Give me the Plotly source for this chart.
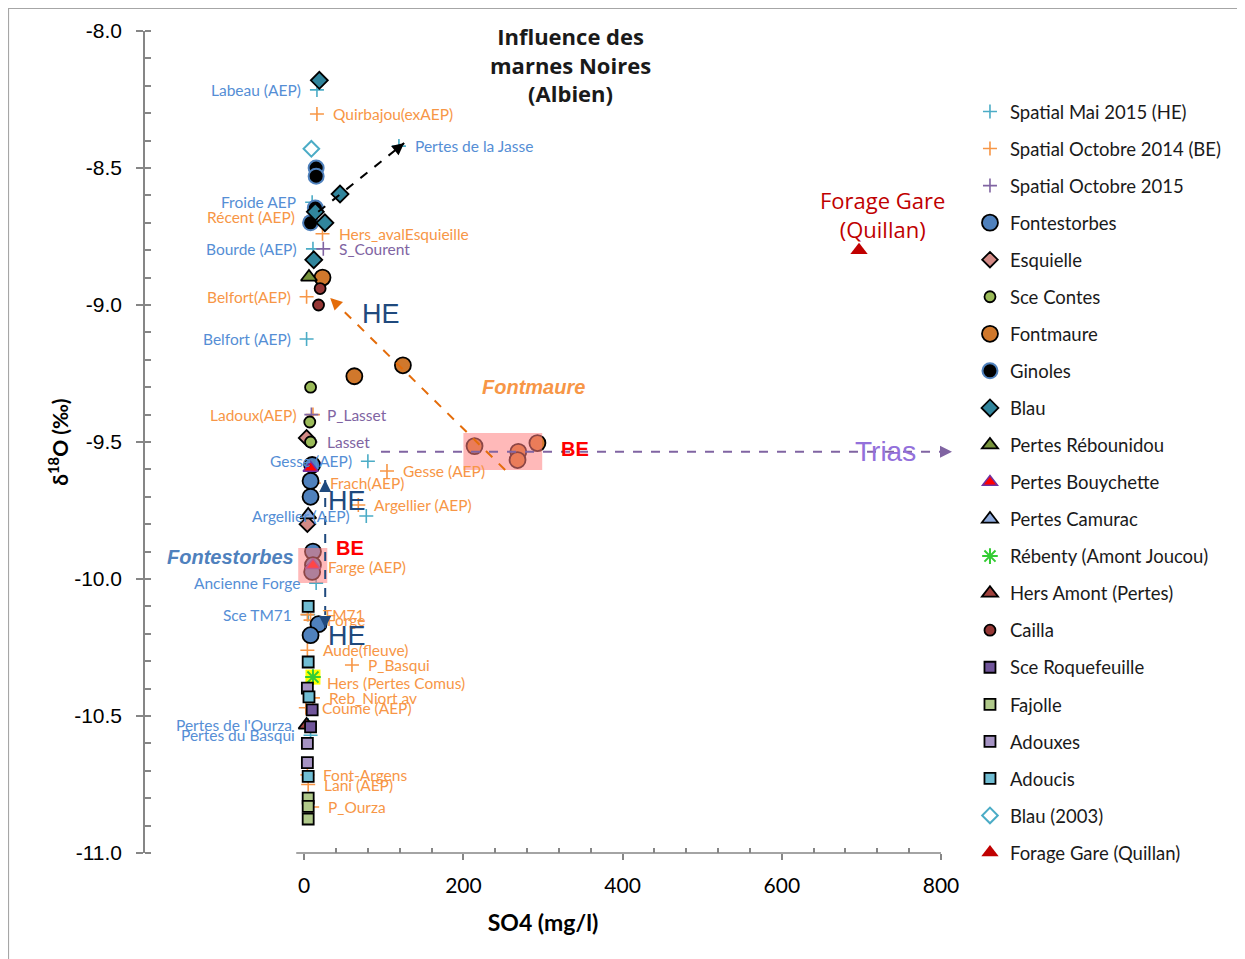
"""Delta18O vs SO4 scatter - influence des marnes noires"""
import math
import plotly.graph_objects as go

# Spatial campaigns (label, x=SO4 mg/l, y=d18O)
MAI_LABELS = ["Labeau (AEP)", "Pertes de la Jasse", "Froide AEP", "Bourde (AEP)",
              "Belfort (AEP)", "Gesse (AEP)", "Argellier (AEP)", "Ancienne Forge",
              "Sce TM71", "Pertes de l'Ourza", "Pertes du Basqui"]
MAI_X = [16, 119, 10, 11, 3, 80, 78, 15, 5, 5, 8]
MAI_Y = [-8.215, -8.42, -8.625, -8.795, -9.124, -9.57, -9.77, -10.015, -10.13, -10.533, -10.57]

OCT14_LABELS = ["Quirbajou(exAEP)", "Récent (AEP)", "Hers_avalEsquieille", "Belfort(AEP)",
                "Ladoux(AEP)", "Gesse (AEP)", "Frach(AEP)", "Argellier (AEP)", "Farge (AEP)",
                "TM71", "Forge", "Aude(fleuve)", "P_Basqui", "Hers (Pertes Comus)",
                "Reb_Niort av", "Coume (AEP)", "Font-Argens", "Lani (AEP)", "P_Ourza"]
OCT14_X = [16, 9, 23, 3, 11, 104, 12, 68, 10, 4, 8, 4, 60, 8, 11, 2, 4, 5, 10]
OCT14_Y = [-8.303, -8.68, -8.74, -8.97, -9.40, -9.606, -9.65, -9.73, -9.955,
           -10.13, -10.15, -10.26, -10.314, -10.38, -10.434, -10.47, -10.715, -10.75, -10.832]

OCT15_LABELS = ["S_Courent", "P_Lasset", "Lasset"]
OCT15_X = [24, 9, 8]
OCT15_Y = [-8.795, -9.40, -9.50]

# label side: L = text left of point, R = right
MAI_SIDE = ["L", "R", "L", "L", "L", "L", "L", "L", "L", "L", "L"]
OCT14_SIDE = ["R", "L", "R", "L", "L", "R", "R", "R", "R", "R", "R", "R", "R", "R", "R", "R", "R", "R", "R"]
OCT15_SIDE = ["R", "R", "R"]

# Sources
FONTESTORBES_X = [10, 8, 8, 11, 11, 10, 18, 8]
FONTESTORBES_Y = [-9.584, -9.642, -9.70, -9.90, -9.949, -9.974, -10.165, -10.205]
ESQUIELLE_X = [3, 4]
ESQUIELLE_Y = [-9.485, -9.80]
CONTES_X = [8, 7, 8]
CONTES_Y = [-9.30, -9.427, -9.50]
FONTMAURE_X = [23, 63, 124, 214, 269, 268, 293]
FONTMAURE_Y = [-8.90, -9.26, -9.22, -9.515, -9.536, -9.566, -9.504]
GINOLES_X = [15, 15, 14, 8]
GINOLES_Y = [-8.50, -8.53, -8.646, -8.70]
BLAU_X = [19, 45, 14, 26, 12]
BLAU_Y = [-8.18, -8.595, -8.66, -8.70, -8.835]
REBOUNIDOU_X = [6]
REBOUNIDOU_Y = [-8.898]
BOUYCHETTE_X = [8, 11]
BOUYCHETTE_Y = [-9.595, -9.95]
CAMURAC_X = [5]
CAMURAC_Y = [-9.766]
REBENTY_X = [11]
REBENTY_Y = [-10.358]
HERS_AMONT_X = [3]
HERS_AMONT_Y = [-10.533]
CAILLA_X = [20, 18]
CAILLA_Y = [-8.94, -9.00]
ROQUEFEUILLE_X = [10, 8]
ROQUEFEUILLE_Y = [-10.478, -10.54]
FAJOLLE_X = [5, 5, 5]
FAJOLLE_Y = [-10.80, -10.83, -10.876]
ADOUXES_X = [4, 4, 4]
ADOUXES_Y = [-10.398, -10.60, -10.67]
ADOUCIS_X = [5, 5, 6, 5]
ADOUCIS_Y = [-10.10, -10.303, -10.43, -10.72]
BLAU2003_X = [9]
BLAU2003_Y = [-8.43]
FORAGE_X = [697]
FORAGE_Y = [-8.80]

X_TICKS = [0, 200, 400, 600, 800]
Y_TICKS = [-8.0, -8.5, -9.0, -9.5, -10.0, -10.5, -11.0]
Y_TICK_TEXT = ["-8.0", "-8.5", "-9.0", "-9.5", "-10.0", "-10.5", "-11.0"]

FONT = "Lato"
ARIAL = "Liberation Sans"

# plot area size in px (used to orient arrow heads)
PLOT_W, PLOT_H = 796, 822
X_RANGE = [-200, 800]
Y_RANGE = [-11, -8]

fig = go.Figure()


def plus_trace(name, xs, ys, color):
    fig.add_trace(go.Scatter(
        x=xs, y=ys, name=name, mode="markers", legendgroup=name,
        marker=dict(symbol="cross-thin", size=10, color=color, line=dict(color=color, width=1.6)),
    ))


def source_trace(name, xs, ys, symbol, fill, size, edge="black", edge_w=1.8):
    fig.add_trace(go.Scatter(
        x=xs, y=ys, name=name, mode="markers", legendgroup=name,
        marker=dict(symbol=symbol, size=size, color=fill, line=dict(color=edge, width=edge_w)),
    ))


plus_trace("Spatial Mai 2015 (HE)", MAI_X, MAI_Y, "#4bacc6")
plus_trace("Spatial Octobre 2014 (BE)", OCT14_X, OCT14_Y, "#f79646")
plus_trace("Spatial Octobre 2015", OCT15_X, OCT15_Y, "#8064a2")

source_trace("Fontestorbes", FONTESTORBES_X, FONTESTORBES_Y, "circle", "#4f81bd", 16)
source_trace("Esquielle", ESQUIELLE_X, ESQUIELLE_Y, "diamond", "#d38a86", 12)
source_trace("Sce Contes", CONTES_X, CONTES_Y, "circle", "#9bbb59", 11)
source_trace("Fontmaure", FONTMAURE_X, FONTMAURE_Y, "circle", "#d0782c", 16)
source_trace("Ginoles", GINOLES_X, GINOLES_Y, "circle", "black", 15, "#4f81bd", 2)
source_trace("Blau", BLAU_X, BLAU_Y, "diamond", "#31859c", 13)
source_trace("Pertes Rébounidou", REBOUNIDOU_X, REBOUNIDOU_Y, "triangle-up", "#77933c", 14)
source_trace("Pertes Bouychette", BOUYCHETTE_X, BOUYCHETTE_Y, "triangle-up", "#ff0000", 13, "#7030a0", 1.5)
source_trace("Pertes Camurac", CAMURAC_X, CAMURAC_Y, "triangle-up", "#8eaadb", 14)

# Rébenty: green asterisk on a yellow square
fig.add_trace(go.Scatter(
    x=REBENTY_X, y=REBENTY_Y, mode="markers", showlegend=False,
    legendgroup="Rébenty (Amont Joucou)",
    marker=dict(symbol="square", size=15, color="#ffff00", line=dict(width=0)),
))
fig.add_trace(go.Scatter(
    x=REBENTY_X, y=REBENTY_Y, name="Rébenty (Amont Joucou)", mode="markers",
    legendgroup="Rébenty (Amont Joucou)",
    marker=dict(symbol="asterisk-open", size=13, color="#33cc33",
                line=dict(color="#33cc33", width=2)),
))

source_trace("Hers Amont (Pertes)", HERS_AMONT_X, HERS_AMONT_Y, "triangle-up", "#a0413c", 14)
source_trace("Cailla", CAILLA_X, CAILLA_Y, "circle", "#953735", 11)
source_trace("Sce Roquefeuille", ROQUEFEUILLE_X, ROQUEFEUILLE_Y, "square", "#70559a", 11)
source_trace("Fajolle", FAJOLLE_X, FAJOLLE_Y, "square", "#b0c98a", 11)
source_trace("Adouxes", ADOUXES_X, ADOUXES_Y, "square", "#a593c3", 11)
source_trace("Adoucis", ADOUCIS_X, ADOUCIS_Y, "square", "#70bdd3", 11)
source_trace("Blau (2003)", BLAU2003_X, BLAU2003_Y, "diamond-open", "#4bacc6", 12, "#4bacc6", 2)
source_trace("Forage Gare (Quillan)", FORAGE_X, FORAGE_Y, "triangle-up", "#c00000", 15, "#c00000", 0)

# point labels
annotations = []
for labels, xs, ys, sides, color in [
    (MAI_LABELS, MAI_X, MAI_Y, MAI_SIDE, "#558ed5"),
    (OCT14_LABELS, OCT14_X, OCT14_Y, OCT14_SIDE, "#f79646"),
    (OCT15_LABELS, OCT15_X, OCT15_Y, OCT15_SIDE, "#8064a2"),
]:
    for lab, x, y, side in zip(labels, xs, ys, sides):
        annotations.append(dict(
            x=x, y=y, text=lab, showarrow=False,
            xanchor="left" if side == "R" else "right",
            xshift=14 if side == "R" else -14,
            font=dict(family=FONT, size=15.5, color=color),
        ))


def note(x, y, text, size, color, family=FONT, bold=False, italic=False):
    if bold:
        text = "<b>" + text + "</b>"
    if italic:
        text = "<i>" + text + "</i>"
    annotations.append(dict(x=x, y=y, text=text, showarrow=False,
                            font=dict(family=family, size=size, color=color)))


note(334, -8.124, "Influence des<br>marnes Noires<br>(Albien)", 22, "#1a1a1a", "Open Sans", bold=True)
note(726, -8.67, "Forage Gare<br>(Quillan)", 22, "#c00000", "Open Sans")
note(96, -9.033, "HE", 27, "#1f497d", ARIAL)
note(54, -9.715, "HE", 27, "#1f497d", ARIAL)
note(54, -10.208, "HE", 27, "#1f497d", ARIAL)
note(288, -9.30, "Fontmaure", 20, "#f79646", ARIAL, bold=True, italic=True)
note(-92, -9.92, "Fontestorbes", 20, "#4f81bd", ARIAL, bold=True, italic=True)
note(340, -9.526, "BE", 20, "#ff0000", ARIAL, bold=True)
note(58, -9.887, "BE", 20, "#ff0000", ARIAL, bold=True)
note(730, -9.536, "Trias", 28, "#9370db", ARIAL)

shapes = []


def arrow_head(tx, ty, fx, fy, color, xref="x"):
    # short solid stub so only the head shows
    xscale = PLOT_W if xref == "paper" else PLOT_W / (X_RANGE[1] - X_RANGE[0])
    dx = (tx - fx) * xscale
    dy = -(ty - fy) * PLOT_H / (Y_RANGE[1] - Y_RANGE[0])
    n = math.hypot(dx, dy)
    annotations.append(dict(
        x=tx, y=ty, xref=xref, yref="y", ax=-dx / n * 12, ay=-dy / n * 12,
        showarrow=True, arrowhead=2, arrowsize=1.2, arrowwidth=2,
        arrowcolor=color, text="", standoff=0,
    ))


def dashed_arrow(x0, y0, x1, y1, color, xref="x", both=False):
    shapes.append(dict(type="line", xref=xref, yref="y", x0=x0, y0=y0, x1=x1, y1=y1,
                       line=dict(color=color, width=2, dash="dash")))
    arrow_head(x1, y1, x0, y0, color, xref)
    if both:
        arrow_head(x0, y0, x1, y1, color, xref)


# highlight boxes (drawn over the markers)
shapes.append(dict(type="rect", xref="x", yref="y", x0=200, x1=299, y0=-9.467, y1=-9.602,
                   fillcolor="#ff8080", opacity=0.55, line=dict(width=0), layer="above"))
shapes.append(dict(type="rect", xref="x", yref="y", x0=-7.5, x1=29, y0=-9.887, y1=-10.015,
                   fillcolor="#ff8080", opacity=0.55, line=dict(width=0), layer="above"))

dashed_arrow(17.6, -8.66, 125.6, -8.409, "black")
dashed_arrow(252.5, -9.602, 32.7, -8.974, "#e46c0a")
dashed_arrow(26.4, -9.639, 26.4, -10.179, "#1f497d", both=True)
# Trias arrow goes past the axis end, so paper x
dashed_arrow(0.2965, -9.536, 1.0138, -9.536, "#8064a2", xref="paper")

# x axis line only spans the SO4 part of the axis
shapes.append(dict(type="line", xref="x", yref="paper", x0=-10, x1=800, y0=0, y1=0,
                   line=dict(color="#868686", width=1.5), layer="below"))

# outer frame of the chart
shapes.append(dict(type="rect", xref="paper", yref="paper", x0=-0.1715, x1=1.3795,
                   y0=-0.15, y1=1.0274, line=dict(color="#a6a6a6", width=1.2), layer="below"))

fig.update_layout(
    width=1237, height=951,
    margin=dict(l=137, r=304, t=23, b=106),
    paper_bgcolor="white", plot_bgcolor="white",
    annotations=annotations, shapes=shapes,
    legend=dict(
        x=1.0364, y=0.9246, xanchor="left", yanchor="top",
        font=dict(family=FONT, size=18.5, color="#1a1a1a"),
        tracegroupgap=10, itemwidth=30, bgcolor="rgba(0,0,0,0)",
    ),
    showlegend=True,
)

fig.update_xaxes(
    range=X_RANGE, tickvals=X_TICKS, showgrid=False, zeroline=False, showline=False,
    ticks="outside", ticklen=6, tickcolor="#868686", tickwidth=1.5,
    minor=dict(tickmode="array", tickvals=[v for v in range(40, 800, 40) if v % 200],
               ticks="inside", ticklen=5, tickcolor="#868686"),
    ticklabelstandoff=8,
    tickfont=dict(family=FONT, size=21, color="black"),
    title=dict(text="<b>SO4 (mg/l)</b>", font=dict(family=FONT, size=23, color="black"), standoff=18),
)
fig.update_yaxes(
    range=Y_RANGE, tickvals=Y_TICKS, ticktext=Y_TICK_TEXT, showgrid=False, zeroline=False,
    showline=True, linecolor="#868686", linewidth=1.5,
    ticks="outside", ticklen=7, tickcolor="#868686", tickwidth=1.5,
    minor=dict(dtick=0.1, ticks="inside", ticklen=6, tickcolor="#868686"),
    ticklabelstandoff=10,
    tickfont=dict(family=ARIAL, size=21, color="black"),
    title=dict(text="<b>δ<sup>18</sup>O (‰)</b>", font=dict(family=FONT, size=21, color="black"), standoff=0),
)

fig.write_html("out.html")
